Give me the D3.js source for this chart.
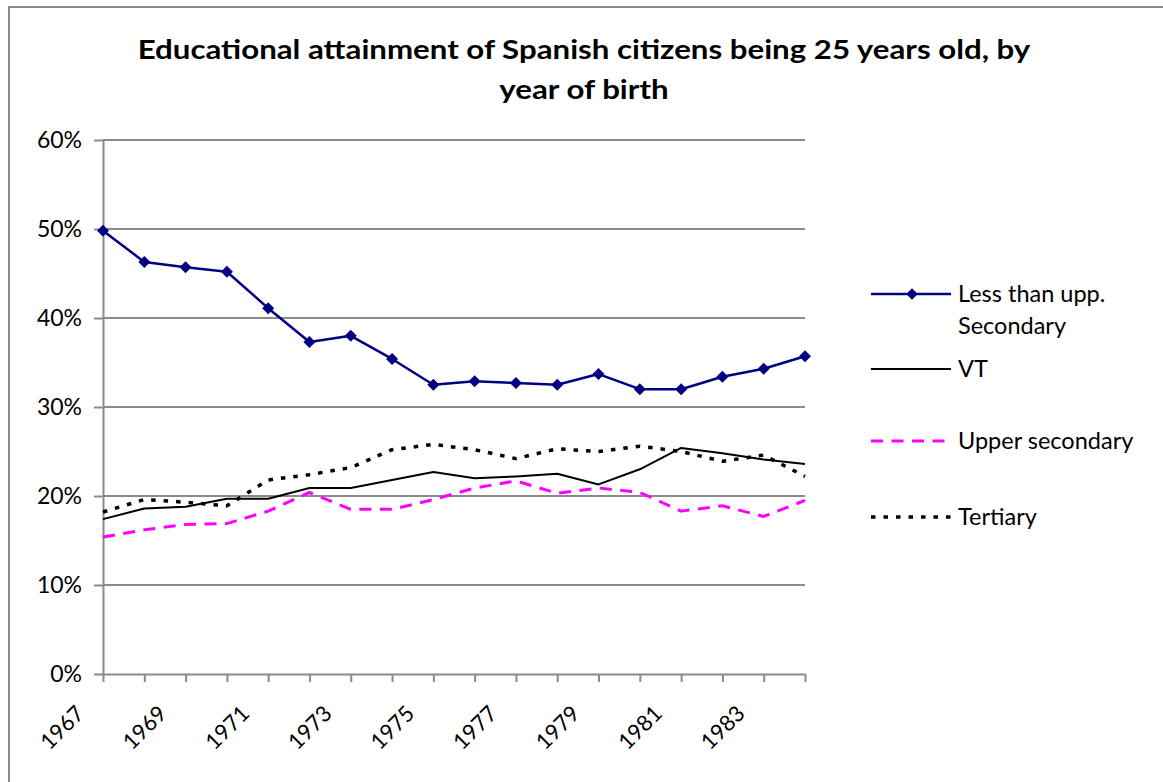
<!DOCTYPE html>
<html>
<head>
<meta charset="utf-8">
<script src="https://cdn.jsdelivr.net/npm/d3@7"></script>
<style>
  html, body { margin: 0; padding: 0; background: #fff; }
  svg { display: block; }
  text { font-family: Lato, "Open Sans", "Noto Sans", sans-serif; fill: #000; }
</style>
</head>
<body>
<svg id="chart" width="1163" height="782"></svg>
<script>
// Birth cohorts (x axis categories)
const years = [1967, 1968, 1969, 1970, 1971, 1972, 1973, 1974, 1975,
               1976, 1977, 1978, 1979, 1980, 1981, 1982, 1983, 1984];

// Share of each cohort at age 25 by highest level attained
const lessThanUpperSecondary = [0.498, 0.463, 0.457, 0.452, 0.411, 0.373, 0.380, 0.354, 0.325,
                                0.329, 0.327, 0.325, 0.337, 0.320, 0.320, 0.334, 0.343, 0.357];
const vt = [0.174, 0.186, 0.188, 0.197, 0.197, 0.209, 0.209, 0.218, 0.227,
            0.220, 0.222, 0.225, 0.213, 0.230, 0.254, 0.248, 0.241, 0.236];
const upperSecondary = [0.154, 0.162, 0.168, 0.169, 0.183, 0.204, 0.185, 0.185, 0.196,
                        0.209, 0.217, 0.203, 0.209, 0.204, 0.183, 0.189, 0.177, 0.195];
const tertiary = [0.182, 0.196, 0.193, 0.189, 0.218, 0.224, 0.232, 0.252, 0.258,
                  0.252, 0.242, 0.253, 0.250, 0.256, 0.250, 0.239, 0.246, 0.222];

// Axis ticks
const yTicks = [0, 0.1, 0.2, 0.3, 0.4, 0.5, 0.6];
const xLabelYears = [1967, 1969, 1971, 1973, 1975, 1977, 1979, 1981, 1983];

const titleLines = ["Educational attainment of Spanish citizens being 25 years old, by",
                    "year of birth"];

const series = [
  { name: ["Less than upp.", "Secondary"], values: lessThanUpperSecondary,
    color: "#000080", width: 2.5, dash: null, marker: true },
  { name: ["VT"], values: vt, color: "#000000", width: 2, dash: null, marker: false },
  { name: ["Upper secondary"], values: upperSecondary, color: "#FF00FF", width: 3, dash: "12,8.5", marker: false },
  { name: ["Tertiary"], values: tertiary, color: "#000000", width: 3.5, dash: "4.5,8", marker: false }
];

const svg = d3.select("#chart");
const gridColor = "#8a8a8a";

// Outer chart border (top and left edges visible)
svg.append("path")
  .attr("d", "M9,782 L9,7 L1163,7")
  .attr("fill", "none")
  .attr("stroke", gridColor)
  .attr("stroke-width", 2);

// Title: two centred bold lines, widened slightly to the chart's title width
const titleCx = 584;
const titleG = svg.append("g");
const titleText = titleG.selectAll("text")
  .data(titleLines)
  .join("text")
  .attr("x", 0)
  .attr("y", (d, i) => 59 + i * 40)
  .attr("text-anchor", "middle")
  .style("font-weight", "bold")
  .style("font-size", "27px")
  .text(d => d);
const natural = titleText.node().getComputedTextLength();
const sx = 893 / natural;
titleG.attr("transform", `translate(${titleCx},0) scale(${sx},1)`);

const x = d3.scalePoint().domain(years).range([103, 805]);
const y = d3.scaleLinear().domain([0, 0.6]).range([674, 140]);

// Horizontal gridlines
svg.append("g").selectAll("line")
  .data(yTicks.filter(t => t > 0))
  .join("line")
  .attr("x1", x(years[0])).attr("x2", x(years[years.length - 1]))
  .attr("y1", d => y(d)).attr("y2", d => y(d))
  .attr("stroke", gridColor).attr("stroke-width", 2);

// Y axis
const yAxis = svg.append("g")
  .attr("transform", `translate(${x(years[0])},0)`)
  .call(d3.axisLeft(y).tickValues(yTicks).tickFormat(d3.format(".0%")).tickSizeInner(9).tickSizeOuter(0).tickPadding(12));
yAxis.select(".domain").attr("stroke", gridColor).attr("stroke-width", 2);
yAxis.selectAll(".tick line").attr("stroke", gridColor).attr("stroke-width", 2);
yAxis.selectAll(".tick text")
  .style("font-size", "23px").style("font-family", "Lato, sans-serif").attr("fill", "#000");

// X axis
const xAxis = svg.append("g")
  .attr("transform", `translate(0,${y(0)})`)
  .call(d3.axisBottom(x).tickSizeInner(8).tickSizeOuter(0).tickFormat(d => xLabelYears.includes(d) ? String(d) : ""));
xAxis.select(".domain").attr("stroke", gridColor).attr("stroke-width", 2);
xAxis.selectAll(".tick line").attr("stroke", gridColor).attr("stroke-width", 2);
xAxis.selectAll(".tick text")
  .style("font-size", "22px").style("font-family", "Lato, sans-serif").attr("fill", "#000")
  .attr("text-anchor", "end")
  .attr("y", 0).attr("dy", 0)
  .attr("transform", "translate(-18,41) rotate(-45)");

// Series lines
const line = d3.line().x((d, i) => x(years[i])).y(d => y(d));
const plot = svg.append("g");
series.slice().reverse().forEach(s => {
  plot.append("path")
    .datum(s.values)
    .attr("d", line)
    .attr("fill", "none")
    .attr("stroke", s.color)
    .attr("stroke-width", s.width)
    .attr("stroke-dasharray", s.dash)
    .attr("stroke-linejoin", "round");
  if (s.marker) {
    plot.append("g").selectAll("path")
      .data(s.values)
      .join("path")
      .attr("d", d3.symbol(d3.symbolDiamond2, 92))
      .attr("transform", (d, i) => `translate(${x(years[i])},${y(d)})`)
      .attr("fill", s.color);
  }
});

// Legend
const legendY = [294, 369, 441, 517];
const legend = svg.append("g");
series.forEach((s, i) => {
  const g = legend.append("g").attr("transform", `translate(0,${legendY[i]})`);
  g.append("line")
    .attr("x1", 871).attr("x2", 951).attr("y1", 0).attr("y2", 0)
    .attr("stroke", s.color).attr("stroke-width", s.width)
    .attr("stroke-dasharray", s.dash);
  if (s.marker) {
    g.append("path").attr("d", d3.symbol(d3.symbolDiamond2, 85))
      .attr("transform", "translate(912,0)").attr("fill", s.color);
  }
  g.selectAll("text")
    .data(s.name)
    .join("text")
    .attr("x", 958)
    .attr("y", (d, j) => j * 32)
    .attr("dy", "0.35em")
    .style("font-size", "23.5px")
    .text(d => d);
});
</script>
</body>
</html>
